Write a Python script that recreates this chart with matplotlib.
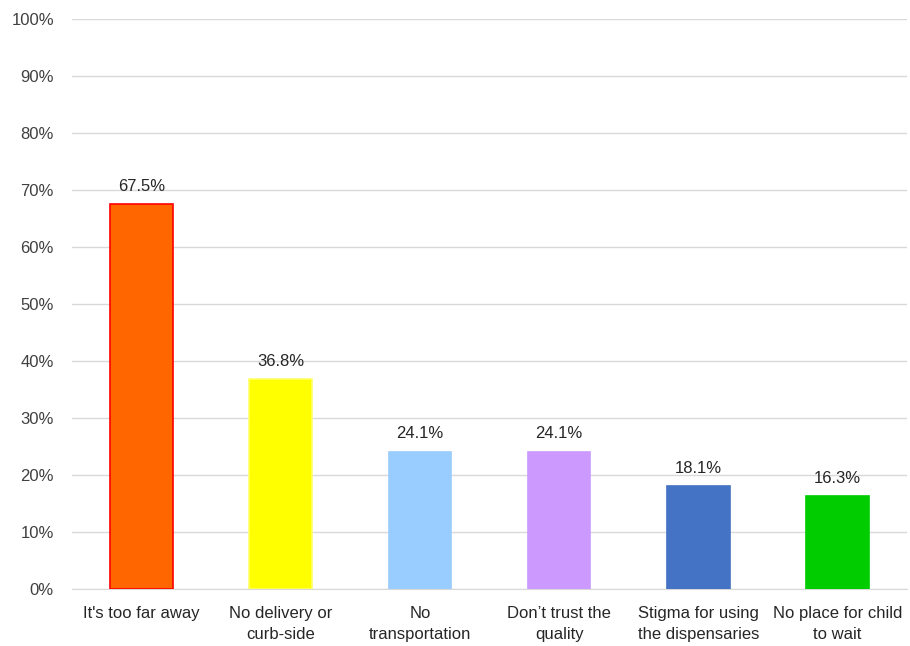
import matplotlib
matplotlib.use("Agg")
import matplotlib.pyplot as plt
from matplotlib.ticker import PercentFormatter

categories = ["It's too far away", "No delivery or\ncurb-side", "No\ntransportation",
              "Don\u2019t trust the\nquality", "Stigma for using\nthe dispensaries",
              "No place for child\nto wait"]
values = [67.5, 36.8, 24.1, 24.1, 18.1, 16.3]
colors = ["#FF6600", "#FFFF00", "#99CCFF", "#CC99FF", "#4472C4", "#00CC00"]
edges = ["#FF0000", "#FFFF66", "#99CCFF", "#CC99FF", "#4472C4", "#00CC00"]
yticks = [0, 10, 20, 30, 40, 50, 60, 70, 80, 90, 100]

plt.rcParams['font.family'] = ['Liberation Sans', 'DejaVu Sans']
fig = plt.figure(figsize=(9.1, 6.46), dpi=100)
ax = fig.add_axes([0.0791, 0.0882, 0.9176, 0.8824])
x = list(range(len(categories)))
bars = ax.bar(x, values, width=0.45, color=colors, edgecolor=edges, linewidth=1.2, zorder=3)
for xi, v in zip(x, values):
    ax.text(xi, v + 1.8, f"{v:.1f}%", ha='center', va='bottom', fontsize=12, color='#262626')
ax.set_ylim(0, 100)
ax.set_xlim(-0.5, len(categories) - 0.5)
ax.set_yticks(yticks)
ax.yaxis.set_major_formatter(PercentFormatter(decimals=0))
ax.set_xticks(x)
ax.set_xticklabels(categories, fontsize=12, color='#262626', linespacing=1.5)
ax.tick_params(axis='y', labelsize=12, labelcolor='#404040', length=0, pad=13)
ax.tick_params(axis='x', length=0, pad=12)
ax.grid(axis='y', color='#D9D9D9', linewidth=1, zorder=0)
for s in ['top', 'right', 'left']:
    ax.spines[s].set_visible(False)
ax.spines['bottom'].set_color('#D9D9D9')
fig.savefig("out.png", dpi=100, facecolor='white')
